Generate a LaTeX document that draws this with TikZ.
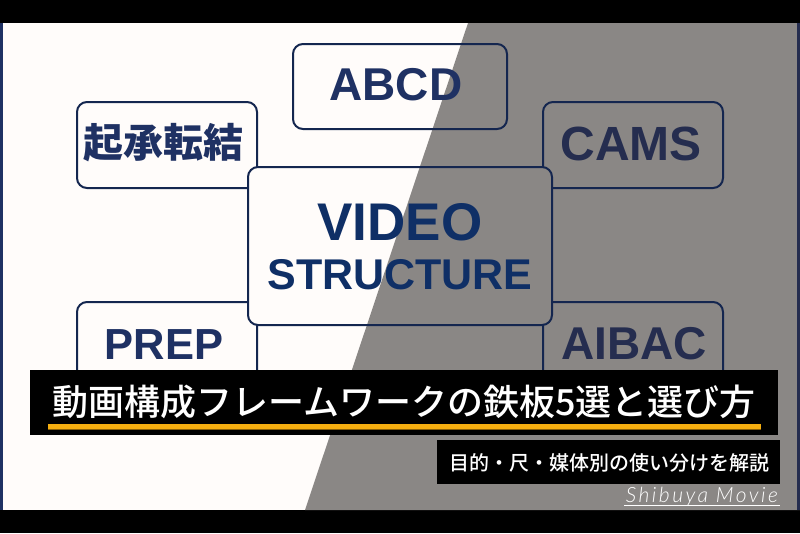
\documentclass[tikz,border=0pt]{standalone}
\usepackage{fontspec}
\setmainfont{Liberation Sans}
\newfontfamily\jpfont{Noto Sans CJK JP}
\newfontfamily\jpmedium{Noto Sans CJK JP Medium}
\newfontfamily\sigfont[LetterSpace=12]{Lato Light}
\definecolor{paper}{HTML}{FFFCFA}
\definecolor{graypanel}{HTML}{8A8785}
\definecolor{navy}{HTML}{1F3163}
\definecolor{navydark}{HTML}{252D4F}
\definecolor{corelabel}{HTML}{0F2F66}
\definecolor{edge}{HTML}{14264F}
\definecolor{accent}{HTML}{F5AE10}
\definecolor{accentdark}{HTML}{8A5F05}
\tikzset{
  x=1pt,y=-1pt,
  card/.style={draw=edge,line width=2pt,rounded corners=10pt},
  cardlabel/.style={font=\fontsize{46}{46}\selectfont\bfseries,text=navy,inner sep=0pt,anchor=base},
  bar/.style={fill=black,draw=none},
}
\begin{document}
\begin{tikzpicture}
\useasboundingbox (0,0) rectangle (800,533);
\fill[black] (0,0) rectangle (800,533);
\fill[paper] (0,23) rectangle (800,510);
\fill[graypanel] (468,23) -- (800,23) -- (800,510) -- (305,510) -- cycle;
\fill[navy] (0,23) rectangle (3,510);
\fill[navydark] (797,23) rectangle (800,510);
% outer cards
\draw[card] (293,44) rectangle (507,129);
\draw[card] (77,102) rectangle (257,188);
\draw[card] (543,102) rectangle (723,188);
\draw[card] (77,302) rectangle (257,400);
\draw[card] (543,302) rectangle (723,400);
\node[cardlabel] (abcd) at (396,100) {ABCD};
\node[cardlabel,text=navydark,font=\fontsize{48}{48}\selectfont\bfseries] (cams) at (631,160.5) {CAMS};
\node[cardlabel,font=\fontsize{40}{40}\selectfont\jpfont\bfseries] (kisho) at (163,157) {起承転結};
\node[cardlabel,font=\fontsize{43.5}{44}\selectfont\bfseries] (prep) at (164,359.5) {PREP};
\node[cardlabel,text=navydark] (aibac) at (634,359.5) {AIBAC};
% central card: the two-tone background shows through, the outer cards do not
\begin{scope}
  \clip[rounded corners=10pt] (248,167) rectangle (552,325);
  \fill[paper] (248,167) rectangle (552,325);
  \fill[graypanel] (468,23) -- (800,23) -- (800,510) -- (305,510) -- cycle;
\end{scope}
\node[draw=edge,line width=2pt,rounded corners=10pt,minimum width=304pt,minimum height=158pt,inner sep=0pt] (core) at (400,246) {};
\node[cardlabel,text=corelabel,font=\fontsize{53}{53}\selectfont\bfseries] (video) at (400,240) {VIDEO};
\node[cardlabel,text=corelabel,font=\fontsize{43}{43}\selectfont\bfseries] (structure) at (400,289) {STRUCTURE};
% title band
\fill[bar] (30,370) rectangle (778,435);
\node[text=white,inner sep=0pt,anchor=base,font=\fontsize{36}{36}\selectfont\jpmedium] (title) at (404,415) {動画構成フレームワークの鉄板5選と選び方};
\fill[accent] (48,424) rectangle (761,430);
\fill[accentdark] (48,429.2) rectangle (761,430);
% subtitle band
\fill[bar] (437,440) rectangle (780,484);
\node[text=white,inner sep=0pt,anchor=base,font=\fontsize{20}{20}\selectfont\jpmedium] (subtitle) at (609,470) {目的・尺・媒体別の使い分けを解説};
% signature
\node[text=white,inner sep=0pt,anchor=base east,font=\fontsize{21}{21}\selectfont\sigfont\itshape] (sig) at (778,502.5) {Shibuya Movie};
\draw[white,line width=0.6pt] (624,505) -- (780,505);
\end{tikzpicture}
\end{document}
